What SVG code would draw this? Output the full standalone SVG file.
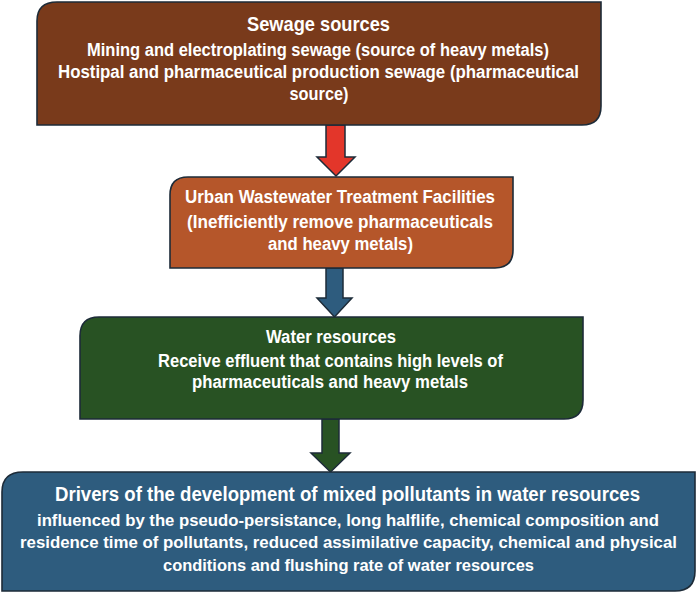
<svg xmlns="http://www.w3.org/2000/svg" width="697" height="594" viewBox="0 0 697 594">
<style>
.box{stroke:#1d2b38;stroke-width:1.6}
.arr{stroke:#1d2b38;stroke-width:1.5;stroke-linejoin:miter}
text{font-family:"Liberation Sans",Arial,sans-serif;font-weight:bold;fill:#ffffff;text-anchor:middle}
.t1{font-size:20.5px}
.t2{font-size:18px}
.t3{font-size:19.5px}
.t4{font-size:17px}
</style>
<rect width="697" height="594" fill="#ffffff"/>
<g id="connectors">
<path class="arr" fill="#e3362a" d="M326,125 H345 V157 H355 L336,176 L317,157 H326 Z"/>
<path class="arr" fill="#2e5c7e" d="M326,268 H343 V298 H352 L334.5,317 L317,298 H326 Z"/>
<path class="arr" fill="#285223" d="M322,419 H339 V453 H350 L330.5,472 L311,453 H322 Z"/>
</g>
<g id="node1">
<path class="box" fill="#793a1b" d="M57,2 H601 V106 Q601,125 582,125 H37 V21 Q37,2 57,2 Z"/>
<text class="t1" x="318.5" y="31" textLength="143" lengthAdjust="spacingAndGlyphs">Sewage sources</text>
<text class="t2" x="318" y="56" textLength="462" lengthAdjust="spacingAndGlyphs">Mining and electroplating sewage (source of heavy metals)</text>
<text class="t2" x="318.5" y="78" textLength="521" lengthAdjust="spacingAndGlyphs">Hostipal and pharmaceutical production sewage (pharmaceutical</text>
<text class="t2" x="319" y="100" textLength="59" lengthAdjust="spacingAndGlyphs">source)</text>
</g>
<g id="node2">
<path class="box" fill="#b5562a" d="M188,177 H513 V250 Q513,268 495,268 H170 V195 Q170,177 188,177 Z"/>
<text class="t2" x="340" y="203" textLength="310" lengthAdjust="spacingAndGlyphs">Urban Wastewater Treatment Facilities</text>
<text class="t2" x="340" y="228" textLength="306" lengthAdjust="spacingAndGlyphs">(Inefficiently remove pharmaceuticals</text>
<text class="t2" x="340.5" y="250" textLength="145" lengthAdjust="spacingAndGlyphs">and heavy metals)</text>
</g>
<g id="node3">
<path class="box" fill="#285223" d="M99,317 H583 V400 Q583,419 564,419 H80 V336 Q80,317 99,317 Z"/>
<text class="t2" x="331" y="343" textLength="130" lengthAdjust="spacingAndGlyphs">Water resources</text>
<text class="t2" x="330.5" y="367" textLength="345" lengthAdjust="spacingAndGlyphs">Receive effluent that contains high levels of</text>
<text class="t2" x="330" y="388" textLength="276" lengthAdjust="spacingAndGlyphs">pharmaceuticals and heavy metals</text>
</g>
<g id="node4">
<path class="box" fill="#2e5c7e" d="M23,472 H695 V571 Q695,591 675,591 H2 V492 Q2,472 23,472 Z"/>
<text class="t3" x="347.5" y="501" textLength="585" lengthAdjust="spacingAndGlyphs">Drivers of the development of mixed pollutants in water resources</text>
<text class="t4" x="348" y="526" textLength="622" lengthAdjust="spacingAndGlyphs">influenced by the pseudo-persistance, long halflife, chemical composition and</text>
<text class="t4" x="348.5" y="548" textLength="657" lengthAdjust="spacingAndGlyphs">residence time of pollutants, reduced assimilative capacity, chemical and physical</text>
<text class="t4" x="348.5" y="571" textLength="371" lengthAdjust="spacingAndGlyphs">conditions and flushing rate of water resources</text>
</g>
</svg>
